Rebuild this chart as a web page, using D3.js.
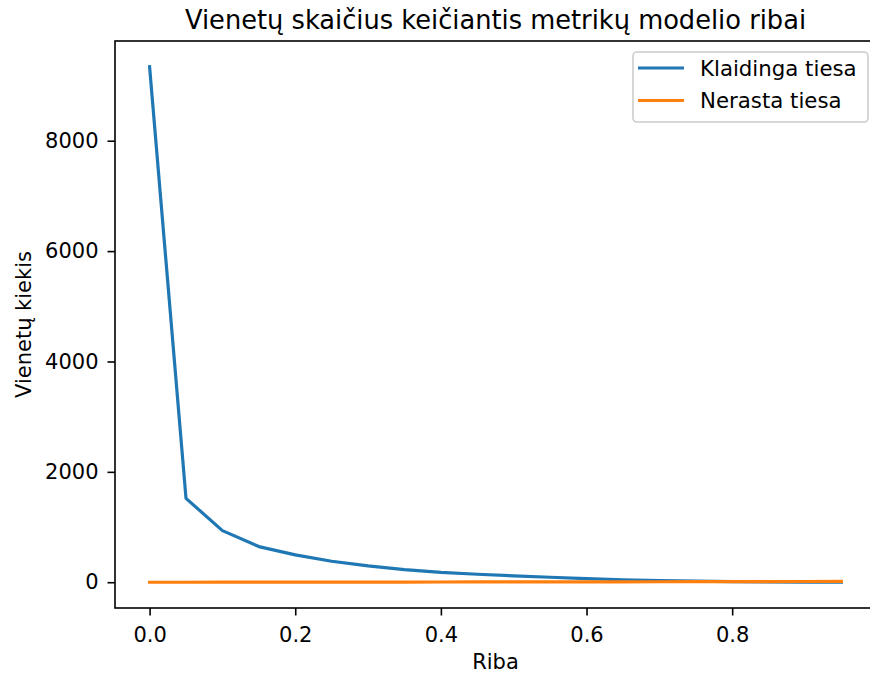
<!DOCTYPE html>
<html>
<head>
<meta charset="utf-8">
<script src="https://cdn.jsdelivr.net/npm/d3@7"></script>
<style>
body { margin: 0; background: #fff; }
text { font-family: "DejaVu Sans", sans-serif; fill: #000; }
</style>
</head>
<body>
<script>
var ribos = [0.00, 0.05, 0.10, 0.15, 0.20, 0.25, 0.30, 0.35, 0.40, 0.45, 0.50, 0.55, 0.60, 0.65, 0.70, 0.75, 0.80, 0.85, 0.90, 0.95];
var klaidingaTiesa = [9340, 1520, 935, 646, 495, 380, 295, 230, 180, 145, 115, 90, 65, 45, 30, 20, 12, 6, 2, 0];
var nerastaTiesa = [0, 0, 1, 1, 2, 2, 3, 3, 4, 5, 5, 6, 7, 8, 9, 10, 11, 12, 13, 14];
var xTicks = [0.0, 0.2, 0.4, 0.6, 0.8];
var yTicks = [0, 2000, 4000, 6000, 8000];

var svgWidth = 870;
var svgHeight = 677;
var margin = {top: 41, left: 115, right: 876, bottom: 608};

var svg = d3.select("body").append("svg").attr("width", svgWidth).attr("height", svgHeight);

// matplotlib-like 5% margins
var xMin = d3.min(ribos), xMax = d3.max(ribos);
var xPad = (xMax - xMin) * 0.05;
var allY = klaidingaTiesa.concat(nerastaTiesa);
var yMin = d3.min(allY), yMax = d3.max(allY);
var yPad = (yMax - yMin) * 0.05;

var x = d3.scaleLinear().domain([xMin - xPad, xMax + xPad]).range([margin.left, margin.right]);
var y = d3.scaleLinear().domain([yMin - yPad, yMax + yPad]).range([margin.bottom, margin.top]);

var xAxis = d3.axisBottom(x).tickValues(xTicks).tickFormat(d3.format(".1f")).tickSize(7.5).tickPadding(11.5);
var gx = svg.append("g").attr("transform", `translate(0, ${margin.bottom})`).call(xAxis);
var yAxis = d3.axisLeft(y).tickValues(yTicks).tickFormat(d3.format("d")).tickSize(7.5).tickPadding(9);
var gy = svg.append("g").attr("transform", `translate(${margin.left}, 0)`).call(yAxis);
[gx, gy].forEach(g => {
  g.select(".domain").remove();
  g.selectAll(".tick line").attr("stroke", "#000").attr("stroke-width", 1.6);
  g.selectAll(".tick text").attr("font-size", "21px").attr("font-family", "DejaVu Sans").attr("fill", "#000");
});

var line = d3.line().x((d, i) => x(ribos[i])).y(d => y(d));
svg.append("path").datum(klaidingaTiesa).attr("d", line).attr("fill", "none")
  .attr("stroke", "#1f77b4").attr("stroke-width", 3.2).attr("stroke-linejoin", "round").attr("stroke-linecap", "square");
svg.append("path").datum(nerastaTiesa).attr("d", line).attr("fill", "none")
  .attr("stroke", "#ff7f0e").attr("stroke-width", 3.2).attr("stroke-linejoin", "round").attr("stroke-linecap", "square");

// spines
svg.append("rect").attr("x", margin.left).attr("y", margin.top)
  .attr("width", margin.right - margin.left).attr("height", margin.bottom - margin.top)
  .attr("fill", "none").attr("stroke", "#000").attr("stroke-width", 1.6);

// title and labels
var cx = (margin.left + margin.right) / 2;
svg.append("text").attr("x", cx).attr("y", 29).attr("text-anchor", "middle").attr("font-size", "25.7px")
  .text("Vienetų skaičius keičiantis metrikų modelio ribai");
svg.append("text").attr("x", cx).attr("y", 669).attr("text-anchor", "middle").attr("font-size", "21px").text("Riba");
svg.append("text").attr("transform", `translate(31, ${(margin.top + margin.bottom) / 2}) rotate(-90)`)
  .attr("text-anchor", "middle").attr("font-size", "21px").text("Vienetų kiekis");

// legend
var legend = svg.append("g");
legend.append("rect").attr("x", 633).attr("y", 52).attr("width", 235).attr("height", 70).attr("rx", 4)
  .attr("fill", "#fff").attr("fill-opacity", 0.8).attr("stroke", "#ccc").attr("stroke-width", 1.6);
var items = [{name: "Klaidinga tiesa", color: "#1f77b4"}, {name: "Nerasta tiesa", color: "#ff7f0e"}];
items.forEach((it, i) => {
  var ly = 68 + i * 32.5;
  legend.append("line").attr("x1", 638).attr("x2", 684).attr("y1", ly).attr("y2", ly)
    .attr("stroke", it.color).attr("stroke-width", 3.2);
  legend.append("text").attr("x", 700).attr("y", ly + 7.5).attr("font-size", "21.3px").text(it.name);
});
</script>
</body>
</html>
